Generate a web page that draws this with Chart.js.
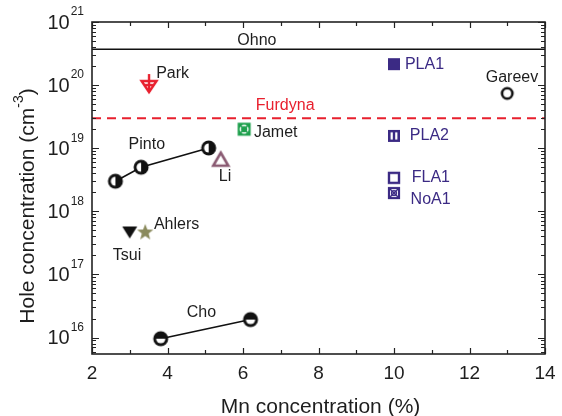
<!DOCTYPE html>
<html><head><meta charset="utf-8">
<script src="https://cdn.jsdelivr.net/npm/chart.js@4"></script>
<style>html,body{margin:0;padding:0;background:#fff}#wrap{width:562px;height:416px;position:relative}</style>
</head><body><div id="wrap"><canvas id="c"></canvas></div>
<script>
// ---------------- data ----------------
const xTickValues = [2, 4, 6, 8, 10, 12, 14];
const yTickExponents = [16, 17, 18, 19, 20, 21];
const ohnoLevel = 3.7e20;
const furdynaLevel = 3.0e19;
const pintoX = [2.62, 3.30, 5.09];
const pintoY = [3.0e18, 5.0e18, 1.01e19];
const choX = [3.82, 6.20];
const choY = [9.6e15, 1.93e16];
const parkX = [3.51], parkY = [1.04e20];
const liX = [5.41], liY = [6.6e18];
const jametX = [6.03], jametY = [2.0e19];
const tsuiX = [3.00], tsuiY = [4.8e17];
const ahlersX = [3.41], ahlersY = [4.8e17];
const pla1X = [10.0], pla1Y = [2.15e20];
const pla2X = [10.0], pla2Y = [1.57e19];
const fla1X = [10.0], fla1Y = [3.4e18];
const noa1X = [10.0], noa1Y = [1.95e18];
const gareevX = [13.0], gareevY = [7.4e19];
const labelTexts = ['Ohno','Park','Furdyna','Jamet','Pinto','Li','Ahlers','Tsui','Cho','PLA1','Gareev','PLA2','FLA1','NoA1'];
const labelX = [5.85, 3.70, 6.34, 6.29, 2.97, 5.36, 3.64, 2.55, 4.51, 10.29, 12.43, 10.42, 10.47, 10.44];
const labelY = [5.05e20, 1.53e20, 4.73e19, 1.75e19, 1.16e19, 3.5e18, 6.2e17, 2.0e17, 2.47e16, 2.15e20, 1.31e20, 1.61e19, 3.38e18, 1.53e18];

// ---------------- styles ----------------
const PURPLE = '#3b2a84', RED = '#e8202e', GREEN = '#1fa04e', OLIVE = '#8a8a5c', MAUVE = '#8a5a72', INK = '#1e1e1e';
const labelColors = [INK, INK, RED, INK, INK, INK, INK, INK, INK, PURPLE, INK, PURPLE, PURPLE, PURPLE];
const FONT = '"Liberation Sans", Arial, Helvetica, sans-serif';

function marker(size, draw) {
  const c = document.createElement('canvas');
  c.width = size; c.height = size;
  const g = c.getContext('2d');
  draw(g, size / 2);
  return c;
}
const pintoMk = marker(18, (g, m) => {
  g.fillStyle = '#111'; g.beginPath(); g.arc(m, m, 7.5, 0, Math.PI * 2); g.fill();
  g.fillStyle = '#fff'; g.beginPath(); g.arc(m, m, 4.6, Math.PI / 2, Math.PI * 1.5); g.closePath(); g.fill();
});
const choMk = marker(18, (g, m) => {
  g.fillStyle = '#111'; g.beginPath(); g.arc(m, m, 7.5, 0, Math.PI * 2); g.fill();
  g.fillStyle = '#fff'; g.beginPath(); g.arc(m, m, 4.6, 0, Math.PI); g.closePath(); g.fill();
});
const gareevMk = marker(16, (g, m) => {
  g.strokeStyle = '#111'; g.lineWidth = 2.6; g.beginPath(); g.arc(m, m, 5.2, 0, Math.PI * 2); g.stroke();
});
const parkMk = marker(22, (g, m) => {
  g.strokeStyle = RED; g.lineWidth = 2.4; g.lineJoin = 'miter';
  g.beginPath(); g.moveTo(m - 7.5, m - 3); g.lineTo(m + 7.5, m - 3); g.lineTo(m, m + 8); g.closePath(); g.stroke();
  g.beginPath(); g.moveTo(m, m - 10); g.lineTo(m, m + 8); g.stroke();
  g.beginPath(); g.moveTo(m - 5, m + 1); g.lineTo(m + 5, m + 1); g.stroke();
});
const liMk = marker(20, (g, m) => {
  g.strokeStyle = MAUVE; g.lineWidth = 2.6; g.lineJoin = 'miter';
  g.beginPath(); g.moveTo(m, m - 7); g.lineTo(m + 7.5, m + 6); g.lineTo(m - 7.5, m + 6); g.closePath(); g.stroke();
});
const jametMk = marker(16, (g, m) => {
  g.fillStyle = GREEN; g.fillRect(m - 6.5, m - 6.5, 13, 13);
  g.strokeStyle = '#fff'; g.lineWidth = 1.4;
  g.beginPath(); g.arc(m, m, 3.8, 0, Math.PI * 2); g.stroke();
  g.strokeStyle = GREEN; g.lineWidth = 1.6;
  g.beginPath(); g.moveTo(m - 4, m - 4); g.lineTo(m + 4, m + 4); g.moveTo(m + 4, m - 4); g.lineTo(m - 4, m + 4); g.stroke();
});
const tsuiMk = marker(18, (g, m) => {
  g.fillStyle = '#111';
  g.beginPath(); g.moveTo(m - 7.5, m - 5); g.lineTo(m + 7.5, m - 5); g.lineTo(m, m + 7); g.closePath(); g.fill();
});
const ahlersMk = marker(20, (g, m) => {
  g.fillStyle = OLIVE; g.beginPath();
  for (let i = 0; i < 10; i++) {
    const r = i % 2 === 0 ? 8.5 : 3.6;
    const a = -Math.PI / 2 + i * Math.PI / 5;
    const px = m + r * Math.cos(a), py = m + 1 + r * Math.sin(a);
    if (i === 0) g.moveTo(px, py); else g.lineTo(px, py);
  }
  g.closePath(); g.fill();
});
const pla1Mk = marker(16, (g, m) => { g.fillStyle = PURPLE; g.fillRect(m - 6, m - 6, 12, 12); });
const pla2Mk = marker(16, (g, m) => {
  g.fillStyle = PURPLE; g.fillRect(m - 6, m - 6, 12, 12);
  g.fillStyle = '#fff'; g.fillRect(m - 3.4, m - 3.6, 2.2, 7.2); g.fillRect(m + 1.2, m - 3.6, 2.2, 7.2);
});
const fla1Mk = marker(16, (g, m) => {
  g.strokeStyle = PURPLE; g.lineWidth = 2.4; g.strokeRect(m - 5, m - 5, 10, 10);
});
const noa1Mk = marker(16, (g, m) => {
  g.strokeStyle = PURPLE; g.lineWidth = 2.2; g.strokeRect(m - 5, m - 5, 10, 10);
  g.lineWidth = 1.4;
  g.beginPath(); g.moveTo(m - 4, m - 4); g.lineTo(m + 4, m + 4); g.moveTo(m + 4, m - 4); g.lineTo(m - 4, m + 4); g.stroke();
  g.beginPath(); g.arc(m, m, 2.4, 0, Math.PI * 2); g.stroke();
});

function pts(xs, ys) { return xs.map((x, i) => ({ x, y: ys[i] })); }
function pointSet(xs, ys, mk, line) {
  return {
    data: pts(xs, ys), pointStyle: mk, pointRadius: 8, pointHoverRadius: 8,
    showLine: !!line, borderColor: '#111', borderWidth: 1.6, backgroundColor: 'transparent'
  };
}
const datasets = [
  { data: [{ x: 2, y: ohnoLevel }, { x: 14, y: ohnoLevel }], showLine: true, borderColor: '#111', borderWidth: 1.6, pointRadius: 0 },
  { data: [{ x: 2, y: furdynaLevel }, { x: 14, y: furdynaLevel }], showLine: true, borderColor: RED, borderWidth: 2, borderDash: [9, 6], pointRadius: 0 },
  pointSet(pintoX, pintoY, pintoMk, true),
  pointSet(choX, choY, choMk, true),
  pointSet(parkX, parkY, parkMk),
  pointSet(liX, liY, liMk),
  pointSet(jametX, jametY, jametMk),
  pointSet(tsuiX, tsuiY, tsuiMk),
  pointSet(ahlersX, ahlersY, ahlersMk),
  pointSet(pla1X, pla1Y, pla1Mk),
  pointSet(pla2X, pla2Y, pla2Mk),
  pointSet(fla1X, fla1Y, fla1Mk),
  pointSet(noa1X, noa1Y, noa1Mk),
  pointSet(gareevX, gareevY, gareevMk)
];

const decorPlugin = {
  id: 'decor',
  afterDatasetsDraw(chart) {
    const { ctx, chartArea: a, scales: { x, y } } = chart;
    ctx.save();
    // annotations
    ctx.font = '16px ' + FONT; ctx.textAlign = 'left'; ctx.textBaseline = 'middle';
    labelTexts.forEach((t, i) => {
      ctx.fillStyle = labelColors[i];
      ctx.fillText(t, x.getPixelForValue(labelX[i]), y.getPixelForValue(labelY[i]));
    });
    // frame
    ctx.strokeStyle = '#222'; ctx.lineWidth = 1.6;
    ctx.strokeRect(a.left, a.top, a.right - a.left, a.bottom - a.top);
    ctx.lineWidth = 1.2;
    ctx.beginPath();
    // x ticks
    for (let v = 2; v <= 14; v++) {
      const px = Math.round(x.getPixelForValue(v)) + 0.5;
      const len = v % 2 === 0 ? 6 : 4;
      ctx.moveTo(px, a.bottom); ctx.lineTo(px, a.bottom - len);
      ctx.moveTo(px, a.top); ctx.lineTo(px, a.top + len);
    }
    // y ticks
    for (let e = 15; e <= 21; e++) {
      for (let k = 1; k <= 9; k++) {
        const v = k * Math.pow(10, e);
        if (v < y.min || v > y.max) continue;
        const py = Math.round(y.getPixelForValue(v)) + 0.5;
        const len = k === 1 ? 7 : 4;
        ctx.moveTo(a.left, py); ctx.lineTo(a.left + len, py);
        ctx.moveTo(a.right, py); ctx.lineTo(a.right - len, py);
      }
    }
    ctx.stroke();
    // x tick labels
    ctx.fillStyle = INK; ctx.font = '19px ' + FONT; ctx.textAlign = 'center'; ctx.textBaseline = 'middle';
    xTickValues.forEach(v => ctx.fillText(String(v), x.getPixelForValue(v), a.bottom + 20));
    // y tick labels
    yTickExponents.forEach(e => {
      const py = y.getPixelForValue(Math.pow(10, e));
      ctx.font = '12px ' + FONT; ctx.textAlign = 'right'; ctx.textBaseline = 'middle';
      const sw = ctx.measureText(String(e)).width;
      ctx.fillText(String(e), a.left - 8, py - 10);
      ctx.font = '20px ' + FONT;
      ctx.fillText('10', a.left - 9 - sw, py + 1);
    });
    // x title
    ctx.font = '21px ' + FONT; ctx.textAlign = 'center'; ctx.textBaseline = 'middle';
    ctx.fillText('Mn concentration (%)', (a.left + a.right) / 2 + 2, 407);
    // y title with superscript
    ctx.translate(28, 206); ctx.rotate(-Math.PI / 2);
    const p1 = 'Hole concentration (cm', sup = '-3', p2 = ')';
    ctx.font = '21px ' + FONT; const w1 = ctx.measureText(p1).width, w3 = ctx.measureText(p2).width;
    ctx.font = '14px ' + FONT; const w2 = ctx.measureText(sup).width;
    let sx = -(w1 + w2 + w3) / 2;
    ctx.textAlign = 'left';
    ctx.font = '21px ' + FONT; ctx.fillText(p1, sx, 0); sx += w1;
    ctx.font = '14px ' + FONT; ctx.fillText(sup, sx, -9); sx += w2;
    ctx.font = '21px ' + FONT; ctx.fillText(p2, sx, 0);
    ctx.restore();
  }
};

new Chart(document.getElementById('c'), {
  type: 'scatter',
  data: { datasets },
  options: {
    responsive: true, maintainAspectRatio: false, animation: false,
    layout: { padding: { left: 92, right: 17, top: 22, bottom: 62 } },
    plugins: { legend: { display: false }, tooltip: { enabled: false } },
    scales: {
      x: { type: 'linear', min: 2, max: 14, display: false },
      y: { type: 'logarithmic', min: 5.5e15, max: 1e21, display: false }
    }
  },
  plugins: [decorPlugin]
});
</script>
</body></html>
